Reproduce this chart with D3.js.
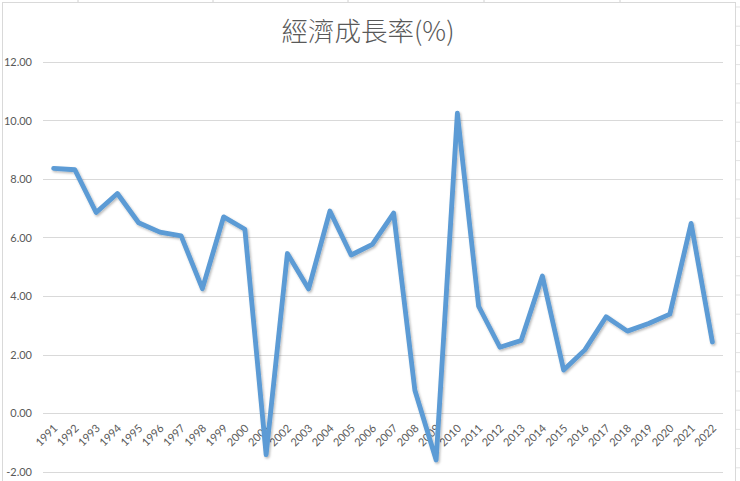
<!DOCTYPE html>
<html>
<head>
<meta charset="utf-8">
<script src="https://cdn.jsdelivr.net/npm/d3@7/dist/d3.min.js"></script>
<style>
  html, body { margin: 0; padding: 0; background: #ffffff; }
  svg { display: block; }
</style>
</head>
<body>
<script>
const title = "經濟成長率(%)";
const years = ["1991","1992","1993","1994","1995","1996","1997","1998","1999","2000",
  "2001","2002","2003","2004","2005","2006","2007","2008","2009","2010",
  "2011","2012","2013","2014","2015","2016","2017","2018","2019","2020","2021","2022"];
const growth = [8.36, 8.31, 6.85, 7.50, 6.50, 6.18, 6.05, 4.25, 6.70, 6.28,
  -1.42, 5.45, 4.24, 6.90, 5.40, 5.76, 6.83, 0.78, -1.60, 10.24,
  3.65, 2.25, 2.48, 4.68, 1.47, 2.16, 3.29, 2.80, 3.06, 3.38, 6.48, 2.43];
const yTicks = [-2, 0, 2, 4, 6, 8, 10, 12];

const W = 740, H = 481;
const svg = d3.select("body").append("svg").attr("width", W).attr("height", H);

// spreadsheet background cells on the right / top
const bg = svg.append("g");
for (let y = 7; y < H; y += 19.2) {
  bg.append("line").attr("x1", 736).attr("x2", W).attr("y1", y).attr("y2", y)
    .attr("stroke", "#e3e3e3").attr("stroke-width", 1);
}
[78, 213, 348, 484, 620].forEach(x => {
  bg.append("line").attr("x1", x).attr("x2", x).attr("y1", 0).attr("y2", 2)
    .attr("stroke", "#d0d0d0");
});

// chart area border
svg.append("rect").attr("x", 2.5).attr("y", 2.5).attr("width", 733).attr("height", 480)
  .attr("fill", "#fff").attr("stroke", "#d9d9d9").attr("stroke-width", 1);

const defs = svg.append("defs");
const f = defs.append("filter").attr("id", "shadow").attr("x", "-5%").attr("y", "-5%")
  .attr("width", "110%").attr("height", "110%");
f.append("feDropShadow").attr("dx", 1.2).attr("dy", 1.5).attr("stdDeviation", 1.2)
  .attr("flood-color", "#000").attr("flood-opacity", 0.28);

const x = d3.scaleBand().domain(years).range([43, 723]);
const y = d3.scaleLinear().domain([-2, 12]).range([471.7, 61.7]);

// gridlines
svg.append("g").selectAll("line").data(yTicks).join("line")
  .attr("x1", 43).attr("x2", 723)
  .attr("y1", d => Math.round(y(d)) + 0.5).attr("y2", d => Math.round(y(d)) + 0.5)
  .attr("stroke", "#d9d9d9").attr("stroke-width", 1);

// y axis labels
const yAxis = d3.axisLeft(y).tickValues(yTicks).tickSize(0).tickPadding(0)
  .tickFormat(d => d.toFixed(2));
const gy = svg.append("g").attr("transform", "translate(32,0)").call(yAxis);
gy.select(".domain").remove();
gy.selectAll("text").attr("fill", "#595959").attr("font-family", "Lato, 'Open Sans', sans-serif")
  .attr("font-size", 11).attr("dy", "0.35em");

// x axis labels (at y=0)
const xAxis = d3.axisBottom(x).tickSize(0).tickPadding(0);
const gx = svg.append("g").attr("transform", `translate(0,${y(0)})`).call(xAxis);
gx.select(".domain").remove();
gx.selectAll("text")
  .attr("fill", "#595959").attr("font-family", "Lato, 'Open Sans', sans-serif").attr("font-size", 11)
  .attr("text-anchor", "end").attr("dy", "0.35em")
  .attr("transform", "translate(2,13) rotate(-45)");

// line
const line = d3.line().x((d, i) => x(years[i]) + x.bandwidth() / 2).y(d => y(d));
svg.append("path").datum(growth).attr("d", line)
  .attr("fill", "none").attr("stroke", "#5b9bd5").attr("stroke-width", 4.8)
  .attr("stroke-linejoin", "round").attr("stroke-linecap", "round")
  .attr("filter", "url(#shadow)");

// title
svg.append("text").attr("x", 368).attr("y", 41).attr("text-anchor", "middle")
  .attr("font-family", "'Noto Sans CJK TC', 'Noto Sans', sans-serif")
  .attr("font-size", 26.5).attr("font-weight", 300).attr("fill", "#595959").text(title);
</script>
</body>
</html>
